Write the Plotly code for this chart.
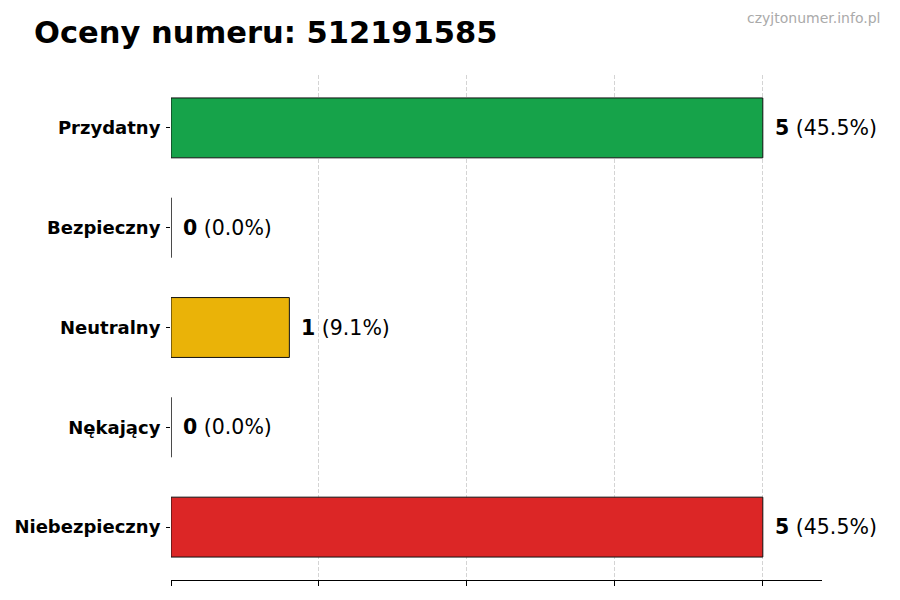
import plotly.graph_objects as go

categories = ["Przydatny", "Bezpieczny", "Neutralny", "Nękający", "Niebezpieczny"]
counts = [5, 0, 1, 0, 5]
colors = ["#16a34a", "#16a34a", "#eab308", "#dc2626", "#dc2626"]
tick_vals = [0, 1.25, 2.5, 3.75, 5]

total = sum(counts)
labels = []
for c in counts:
    pct = c / total * 100 if total else 0
    labels.append("<b>%d</b> (%.1f%%)" % (c, pct))

fig = go.Figure()
fig.add_trace(go.Bar(
    x=counts,
    y=categories,
    orientation="h",
    width=0.6,
    marker=dict(color=colors, line=dict(color="#111111", width=1)),
    hoverinfo="skip",
))

for cat, c, lab in zip(categories, counts, labels):
    fig.add_annotation(
        x=c, y=cat, text=lab, showarrow=False,
        xanchor="left", yanchor="middle", xshift=10,
        font=dict(family="DejaVu Sans", size=20.5, color="#000000"),
    )

fig.update_layout(
    width=900, height=600,
    margin=dict(l=163, r=86, t=67, b=28),
    paper_bgcolor="white", plot_bgcolor="white",
    showlegend=False,
    title=dict(
        text="<b>Oceny numeru: 512191585</b>",
        x=0.029, xanchor="left", y=0.978, yanchor="top",
        font=dict(family="DejaVu Sans", size=30.5, color="#000000"),
    ),
    font=dict(family="DejaVu Sans", color="#000000"),
)
fig.add_annotation(
    text="czyjtonumer.info.pl", xref="paper", yref="paper",
    x=1.092, y=1.113, xanchor="right", yanchor="middle", showarrow=False,
    font=dict(family="DejaVu Sans", size=14, color="#aaaaaa"),
)

fig.update_xaxes(
    range=[0, 5.5], tickvals=tick_vals, showticklabels=False,
    ticks="outside", ticklen=5, tickcolor="#000000",
    showgrid=True, gridcolor="rgba(170,170,170,0.5)", griddash="4px,2px", gridwidth=1,
    showline=True, linecolor="#000000", linewidth=1,
    zeroline=False, layer="above traces", automargin=False,
)
fig.update_yaxes(
    categoryorder="array", categoryarray=categories[::-1],
    range=[-0.53, 4.53],
    ticks="outside", ticklen=4, tickcolor="#000000", ticklabelstandoff=2,
    tickfont=dict(family="DejaVu Sans", size=18, color="#000000"),
    tickprefix="<b>", ticksuffix="</b>",
    showline=False, showgrid=False, zeroline=False, automargin=False,
)

fig.write_html("out.html")
